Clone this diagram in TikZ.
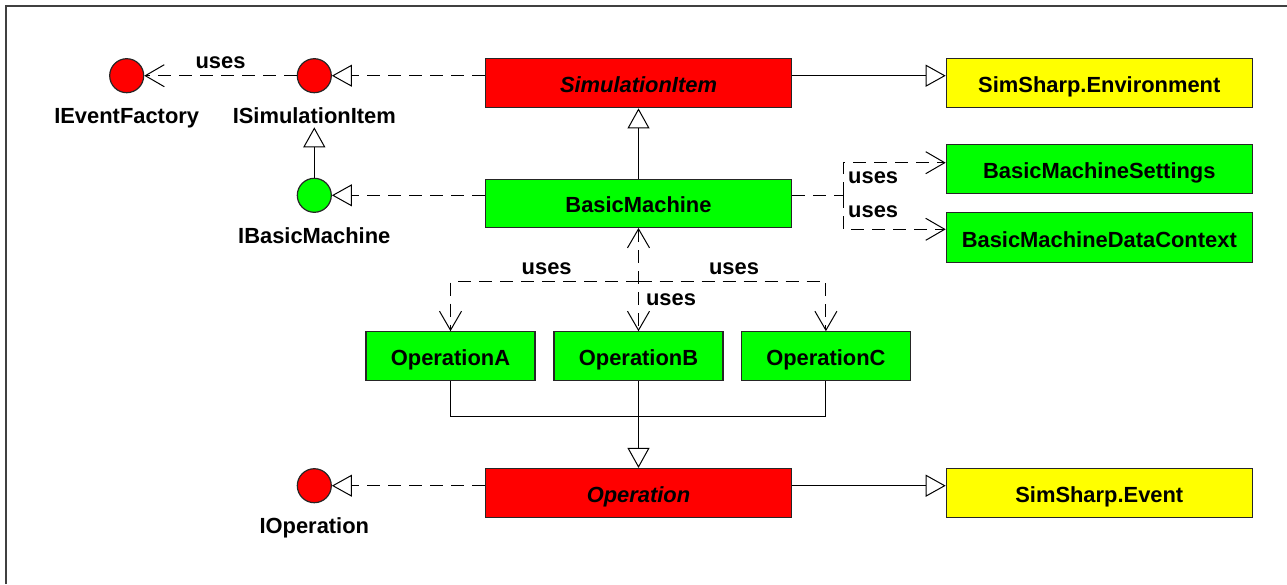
\documentclass[tikz,border=0pt]{standalone}
\usepackage{fontspec}
\setmainfont{Liberation Sans}
\usetikzlibrary{arrows.meta,calc}

\definecolor{cred}{HTML}{FF0000}
\definecolor{cgreen}{HTML}{00FF00}
\definecolor{cyellow}{HTML}{FFFF00}

\begin{document}
\begin{tikzpicture}[x=1pt,y=-1pt,
  font=\fontsize{21.9}{26}\selectfont\bfseries,
  cls/.style={draw=black!85, line width=1.2pt, inner sep=0pt,
    minimum height=49pt, text height=19.2pt, text depth=0pt},
  wide/.style={cls, minimum width=306pt},
  narrow/.style={cls, minimum width=169pt},
  iface/.style={circle, draw=black!85, line width=1.2pt, minimum size=34pt, inner sep=0pt},
  lbl/.style={inner sep=0pt, anchor=base},
  dashline/.style={line width=1pt, dash pattern=on 13pt off 8pt},
  realize/.style={dashline, -{Triangle[open, length=20pt, width=22pt]}},
  gen/.style={line width=1pt, -{Triangle[open, length=20pt, width=22pt]}},
  usesline/.style={dashline, -{Straight Barb[length=19pt, width=22pt]}},
  plain/.style={line width=1pt}
]
\useasboundingbox (0,0) rectangle (1287,584);

% outer frame
\draw[black!75, line width=1.3pt] (6,584) -- (6,6) -- (1287,6);

% classes
\node[wide, fill=cred] (simitem) at (638.5,83.3) {\itshape SimulationItem};
\node[wide, fill=cyellow] (env) at (1099.3,83.3) {SimSharp.Environment};
\node[wide, fill=cgreen, minimum height=48pt] (bm) at (638.5,203.3) {BasicMachine};
\node[wide, fill=cgreen] (settings) at (1099.3,168.7) {BasicMachineSettings};
\node[wide, fill=cgreen, minimum height=50pt] (dctx) at (1099.3,237.7) {BasicMachineDataContext};
\node[narrow, fill=cgreen] (opA) at (450.5,356.3) {OperationA};
\node[narrow, fill=cgreen] (opB) at (638.5,356.3) {OperationB};
\node[narrow, fill=cgreen] (opC) at (825.9,356.3) {OperationC};
\node[wide, fill=cred] (op) at (638.5,493) {\itshape Operation};
\node[wide, fill=cyellow] (event) at (1099.3,493) {SimSharp.Event};

% interfaces (lollipops) and their names
\node[iface, fill=cred] (ievf) at (126.7,75.7) {};
\node[iface, fill=cred] (isim) at (314.3,75.7) {};
\node[iface, fill=cgreen] (ibm) at (314.3,195.3) {};
\node[iface, fill=cred] (iop) at (314.3,485.7) {};
\node[lbl] (ievftxt) at (126.7,123.5) {IEventFactory};
\node[lbl] (isimtxt) at (314.3,123.5) {ISimulationItem};
\node[lbl] (ibmtxt) at (314.3,243.3) {IBasicMachine};
\node[lbl] (ioptxt) at (314.3,533.7) {IOperation};
\coordinate (isimbase) at (314.3,127.3);

% top row
\draw[realize] (simitem.west |- isim) -- (isim);
\draw[usesline] (isim) -- node[lbl, pos=0.5, yshift=7.4pt] (u1) {uses} (ievf);
\draw[gen] (simitem.east |- isim) -- (env.west |- isim);

% BasicMachine
\draw[gen] (bm.north) -- (simitem.south);
\draw[gen] (ibm.north) -- (isimbase);
\draw[realize] (bm.west |- ibm) -- (ibm);

% BasicMachine uses settings and data context
\coordinate (rfork) at (843.3,195);
\draw[dashline] (bm.east |- rfork) -- (rfork);
\draw[usesline] (rfork) |- ($(settings.west)+(0,-6)$);
\draw[usesline] (rfork) |- ($(dctx.west)+(0,-8.4)$);
\node[lbl, anchor=base west] (u2) at (848,183.3) {uses};
\node[lbl, anchor=base west] (u3) at (848,217.3) {uses};

% BasicMachine and the operations
\path (bm.south) ++(0,53.7) coordinate (mfork);
\draw[usesline] (mfork) -| (opA.north);
\draw[usesline] (mfork) -| (opC.north);
\draw[dashline, {Straight Barb[length=19pt, width=22pt]}-{Straight Barb[length=19pt, width=22pt]}] (bm.south) -- (opB.north);
\node[lbl] (u4) at (546.7,274.3) {uses};
\node[lbl] (u5) at (734,274.3) {uses};
\node[lbl] (u6) at (671,305) {uses};

% operations generalize Operation
\coordinate (obus) at (638.5,416.7);
\draw[plain] (opA.south) |- (obus) -| (opC.south);
\draw[gen] (opB.south) -- (op.north);

% Operation
\draw[realize] (op.west |- iop) -- (iop);
\draw[gen] (op.east |- iop) -- (event.west |- iop);
\end{tikzpicture}
\end{document}
